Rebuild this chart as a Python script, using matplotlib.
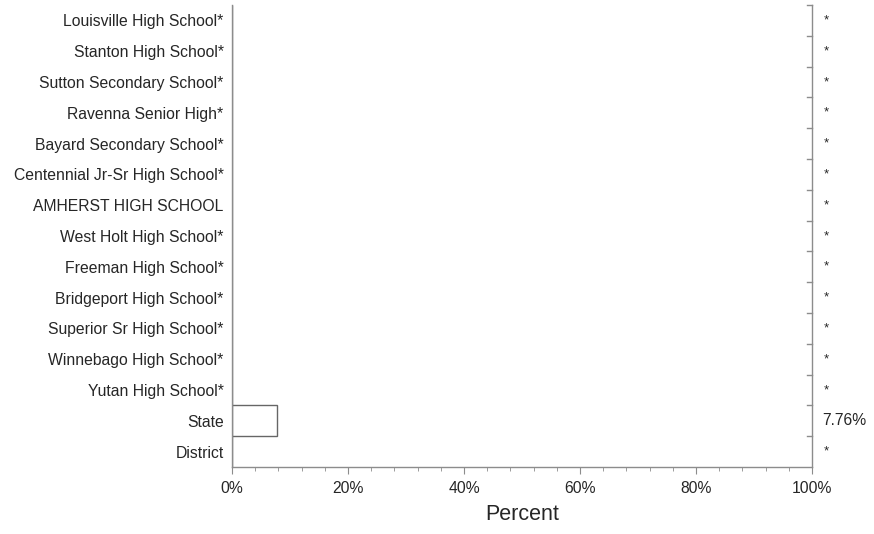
import matplotlib.pyplot as plt
import matplotlib.transforms as mtransforms
from matplotlib.ticker import MultipleLocator, FuncFormatter

plt.rcParams['font.family'] = ['Liberation Sans', 'DejaVu Sans']

# Data (bottom to top)
schools = ["District", "State", "Yutan High School*", "Winnebago High School*",
           "Superior Sr High School*", "Bridgeport High School*", "Freeman High School*",
           "West Holt High School*", "AMHERST HIGH SCHOOL", "Centennial Jr-Sr High School*",
           "Bayard Secondary School*", "Ravenna Senior High*", "Sutton Secondary School*",
           "Stanton High School*", "Louisville High School*"]
values = [0, 7.76, 0, 0, 0, 0, 0, 0, 0, 0, 0, 0, 0, 0, 0]
labels = ["*", "7.76%", "*", "*", "*", "*", "*", "*", "*", "*", "*", "*", "*", "*", "*"]

spine_col = '#8c8c8c'
text_col = '#262626'
fs = 11.3

fig = plt.figure(figsize=(8.74, 5.34), dpi=100)
ax = fig.add_axes([232 / 874, 1 - 467 / 534, 580 / 874, 462 / 534])

y = list(range(len(schools)))
ax.barh(y, values, height=1.0, color='white', edgecolor='#666666', linewidth=1)

ax.set_xlim(0, 100)
ax.set_ylim(-0.5, len(schools) - 0.5)

ax.set_yticks(y)
ax.set_yticklabels(schools, fontsize=fs, color=text_col)
ax.tick_params(axis='y', length=0, pad=6)

ax.xaxis.set_major_locator(MultipleLocator(20))
ax.xaxis.set_minor_locator(MultipleLocator(4))
ax.xaxis.set_major_formatter(FuncFormatter(lambda v, p: f"{v:.0f}%"))
ax.tick_params(axis='x', which='major', length=5, color=spine_col, labelsize=fs,
               labelcolor=text_col, pad=5)
ax.tick_params(axis='x', which='minor', length=3, color=spine_col)
ax.set_xlabel("Percent", fontsize=15.5, color=text_col, labelpad=6)

ax.spines['top'].set_visible(False)
for s in ['left', 'right', 'bottom']:
    ax.spines[s].set_color(spine_col)
    ax.spines[s].set_linewidth(1)

# right side ticks at category boundaries
trans_right = mtransforms.blended_transform_factory(ax.transAxes, ax.transData)
for b in range(len(schools)):
    yb = b + 0.5
    ax.plot([1.0, 0.991], [yb, yb], transform=trans_right, color=spine_col,
            linewidth=1, clip_on=False)

for yi, lab in zip(y, labels):
    if lab == "*":
        ax.text(1.02, yi, lab, transform=trans_right, ha='left', va='center',
                fontsize=9.5, color=text_col)
    else:
        ax.text(1.017, yi, lab, transform=trans_right, ha='left', va='center',
                fontsize=fs, color=text_col)

fig.savefig("out.png", dpi=100)
